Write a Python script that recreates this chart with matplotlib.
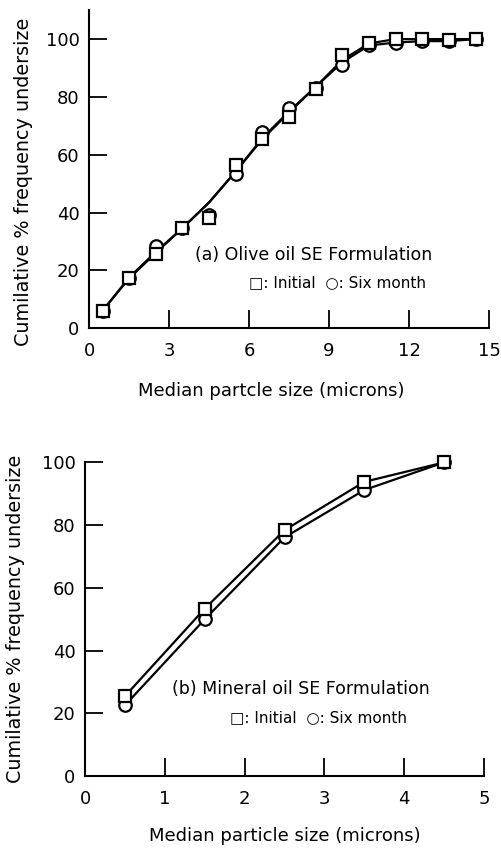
import numpy as np
import matplotlib
matplotlib.use("Agg")
import matplotlib.pyplot as plt

plt.rcParams["font.family"] = ["DejaVu Sans"]

# --- dados ---
olive_x = [0.5, 1.5, 2.5, 3.5, 4.5, 5.5, 6.5, 7.5, 8.5, 9.5, 10.5, 11.5, 12.5, 13.5, 14.5]
olive_initial = [6, 17.2, 25.8, 34.7, 38.2, 56.6, 65.3, 72.9, 82.9, 94.5, 98.8, 100, 100, 99.8, 100]
olive_six = [6, 17.5, 28.4, 34.5, 39.3, 53.2, 67.7, 76, 83, 91, 97.9, 98.5, 99.3, 99.3, 100]
# curva suavizada desenhada na figura
olive_initial_curve = [6, 17.2, 26, 34.6, 43.5, 54.2, 65.4, 74.6, 83.5, 92.8, 98.5, 100, 100, 100, 100]
olive_six_curve = [6, 17.5, 26.4, 34.6, 43.5, 54.2, 65.8, 75, 83.5, 92, 97.8, 98.8, 99.3, 99.3, 100]

mineral_x = [0.5, 1.5, 2.5, 3.5, 4.5]
mineral_initial = [25.5, 53.4, 78.4, 93.8, 100]
mineral_six = [22.6, 50, 76.1, 91.2, 100]

fig = plt.figure(figsize=(5.01, 8.5), dpi=100)

FS = 13
mk = dict(markersize=9, markerfacecolor="white", markeredgecolor="black",
          markeredgewidth=1.6, linestyle="none", clip_on=False, zorder=3)


def style_axes(ax, xticks, yticks, xlabel):
    for s in ["top", "right"]:
        ax.spines[s].set_visible(False)
    for s in ["left", "bottom"]:
        ax.spines[s].set_linewidth(1.5)
    ax.set_xticks(xticks)
    ax.set_yticks(yticks)
    ax.tick_params(axis="both", direction="in", length=13, width=1.3,
                   labelsize=FS, pad=7)
    ax.tick_params(axis="x", pad=10)
    ax.set_xlabel(xlabel, fontsize=FS, labelpad=14)
    ax.set_ylabel("Cumilative % frequency undersize", fontsize=13.8, labelpad=6)


# (a) Olive oil
ax1 = fig.add_axes([0.178, 0.614, 0.798, 0.374])
ax1.plot(olive_x, olive_six_curve, color="black", lw=1.6, zorder=2)
ax1.plot(olive_x, olive_initial_curve, color="black", lw=1.6, zorder=2)
ax1.plot(olive_x, olive_six, marker="o", **mk)
ax1.plot(olive_x, olive_initial, marker="s", **mk)
ax1.set_xlim(0, 15)
ax1.set_ylim(0, 110)
style_axes(ax1, [0, 3, 6, 9, 12, 15], [0, 20, 40, 60, 80, 100],
           "Median partcle size (microns)")
ax1.xaxis.set_label_coords(0.455, -0.17)
ax1.yaxis.set_label_coords(-0.14, 0.46)
ax1.text(3.97, 25.3, "(a) Olive oil SE Formulation", fontsize=FS - 0.5, va="center")
ax1.text(6.0, 15.9, "\u25a1: Initial  \u25cb: Six month", fontsize=FS - 2, va="center")

# (b) Mineral oil
ax2 = fig.add_axes([0.170, 0.087, 0.796, 0.369])
ax2.plot(mineral_x, mineral_six, color="black", lw=1.6, zorder=2)
ax2.plot(mineral_x, mineral_initial, color="black", lw=1.6, zorder=2)
ax2.plot(mineral_x, mineral_six, marker="o", **mk)
ax2.plot(mineral_x, mineral_initial, marker="s", **mk)
ax2.set_xlim(0, 5)
ax2.set_ylim(0, 100)
style_axes(ax2, [0, 1, 2, 3, 4, 5], [0, 20, 40, 60, 80, 100],
           "Median particle size (microns)")
ax2.yaxis.set_label_coords(-0.15, 0.5)
ax2.text(1.09, 27.7, "(b) Mineral oil SE Formulation", fontsize=FS - 0.5, va="center")
ax2.text(1.82, 18.5, "\u25a1: Initial  \u25cb: Six month", fontsize=FS - 2, va="center")

fig.savefig("out.png", dpi=100)
